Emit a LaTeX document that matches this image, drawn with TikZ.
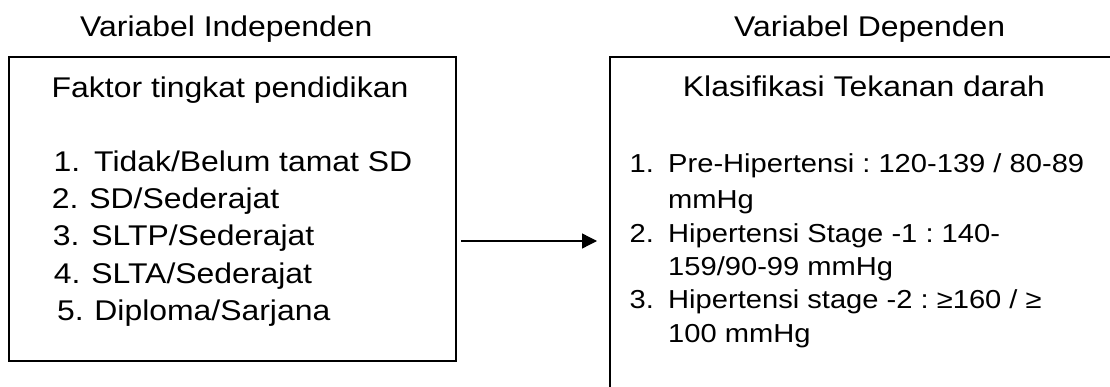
\documentclass[tikz,border=0pt]{standalone}
\usepackage{fontspec}
\setmainfont{Liberation Sans}[FakeStretch=1.12]
\usetikzlibrary{arrows.meta}
\frenchspacing
\begin{document}
\begin{tikzpicture}[x=1pt,y=-1pt,
  box/.style={draw, line width=1.4pt, inner sep=0pt, outer sep=0pt, anchor=north west},
  big/.style={anchor=base west, inner sep=0pt, font=\fontsize{28.5}{34}\selectfont},
  small/.style={anchor=base west, inner sep=0pt, font=\fontsize{26}{31}\selectfont},
  arr/.style={line width=1.3pt, -{Triangle[length=15pt,width=15pt]}}]
\useasboundingbox (0,0) rectangle (1110,387);
\clip (0,0) rectangle (1110,387);
% boxes
\node[box, minimum width=447pt, minimum height=304pt] (lbox) at (9,57) {};
\node[box, minimum width=520pt, minimum height=360pt] (rbox) at (610,57) {};
% left side
\node[big] (tl) at (80,37) {Variabel Independen};
\node[big] (lh) at (51.5,97.7) {Faktor tingkat pendidikan};
\node[big] (n1) at (53.5,171.7) {1.};
\node[big] (i1) at (94,171.7) {Tidak/Belum tamat SD};
\node[big] (n2) at (51.7,209) {2.};
\node[big] (i2) at (89.2,209) {SD/Sederajat};
\node[big] (n3) at (52.6,246) {3.};
\node[big] (i3) at (91.2,246) {SLTP/Sederajat};
\node[big] (n4) at (53.7,283) {4.};
\node[big] (i4) at (91.2,283) {SLTA/Sederajat};
\node[big] (n5) at (57,320) {5.};
\node[big] (i5) at (94.2,320) {Diploma/Sarjana};
% right side
\node[big] (tr) at (734,36.7) {Variabel Dependen};
\node[big] (rh) at (682.7,96.7) {Klasifikasi Tekanan darah};
\node[small] (m1) at (629.5,173) {1.};
\node[small] (r1) at (668,173) {Pre-Hipertensi : 120-139 / 80-89};
\node[small] (r1b) at (668,209) {mmHg};
\node[small] (m2) at (629.5,243) {2.};
\node[small] (r2) at (668,243) {Hipertensi Stage -1 : 140-};
\node[small] (r2b) at (668,275) {159/90-99 mmHg};
\node[small] (m3) at (629.5,308) {3.};
\node[small] (r3) at (668,308) {Hipertensi stage -2 : ≥160 / ≥};
\node[small] (r3b) at (668,342) {100 mmHg};
% arrow
\coordinate (ay) at (0,241);
\draw[arr, shorten <=5pt, shorten >=13pt] (lbox.east |- ay) -- (rbox.west |- ay);
\end{tikzpicture}
\end{document}
